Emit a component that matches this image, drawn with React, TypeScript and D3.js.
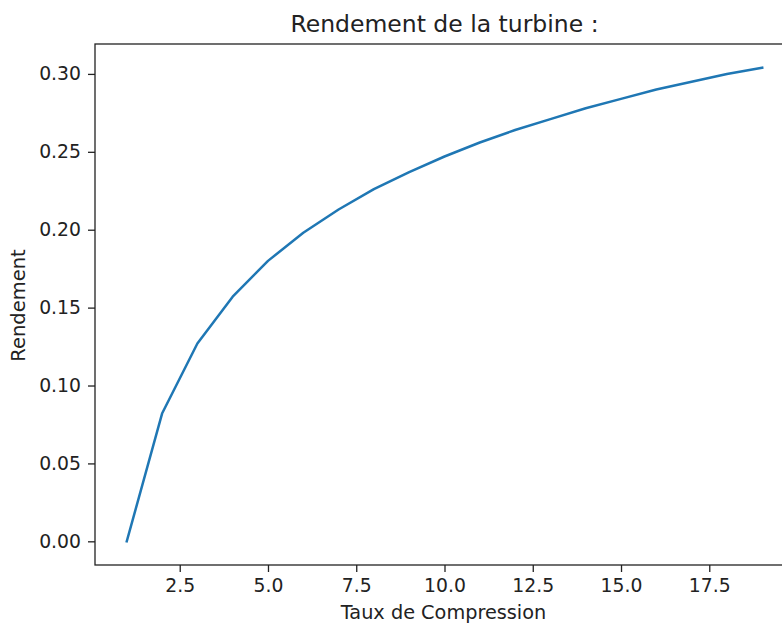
import React, { useEffect, useRef } from 'react';
import * as d3 from 'd3';

// taux de compression / rendement
const taux = [1, 2, 3, 4, 5, 6, 7, 8, 9, 10, 11, 12, 13, 14, 15, 16, 17, 18, 19];
const rendement = [
  0.0, 0.082, 0.127, 0.157, 0.18, 0.198, 0.213, 0.226, 0.237, 0.247,
  0.256, 0.264, 0.271, 0.278, 0.284, 0.29, 0.295, 0.3, 0.304,
];
const xTicks = [2.5, 5.0, 7.5, 10.0, 12.5, 15.0, 17.5];
const yTicks = [0.0, 0.05, 0.1, 0.15, 0.2, 0.25, 0.3];

const W = 782;
const H = 623;

export default function App() {
  const ref = useRef<SVGSVGElement | null>(null);

  useEffect(() => {
    const margin = { top: 44, left: 95, right: 794, bottom: 565 };
    const svg = d3.select(ref.current);
    svg.selectAll('*').remove();

    const font = 'DejaVu Sans, sans-serif';
    const xPad = (d3.max(taux)! - d3.min(taux)!) * 0.05;
    const yPad = (d3.max(rendement)! - d3.min(rendement)!) * 0.05;

    const x = d3
      .scaleLinear()
      .domain([d3.min(taux)! - xPad, d3.max(taux)! + xPad])
      .range([margin.left, margin.right]);
    const y = d3
      .scaleLinear()
      .domain([d3.min(rendement)! - yPad, d3.max(rendement)! + yPad])
      .range([margin.bottom, margin.top]);

    svg.append('rect').attr('width', W).attr('height', H).attr('fill', '#fff');

    // courbe
    const line = d3
      .line<number>()
      .x((_, i) => x(taux[i]))
      .y((d) => y(d));
    svg
      .append('path')
      .datum(rendement)
      .attr('d', line)
      .attr('fill', 'none')
      .attr('stroke', '#1f77b4')
      .attr('stroke-width', 2.5)
      .attr('stroke-linejoin', 'round')
      .attr('stroke-linecap', 'square');

    // axes
    const xAxis = svg
      .append('g')
      .attr('transform', `translate(0, ${margin.bottom})`)
      .call(
        d3
          .axisBottom(x)
          .tickValues(xTicks)
          .tickFormat(d3.format('.1f'))
          .tickSize(7)
          .tickPadding(7)
          .tickSizeOuter(0)
      );
    const yAxis = svg
      .append('g')
      .attr('transform', `translate(${margin.left}, 0)`)
      .call(
        d3
          .axisLeft(y)
          .tickValues(yTicks)
          .tickFormat(d3.format('.2f'))
          .tickSize(7)
          .tickPadding(7)
          .tickSizeOuter(0)
      );
    [xAxis, yAxis].forEach((g) => {
      g.select('.domain').remove();
      g.selectAll('line').attr('stroke', '#222').attr('stroke-width', 1.3);
      g.selectAll('text')
        .attr('fill', '#222')
        .style('font-family', font)
        .style('font-size', '18.8px');
    });

    // cadre
    svg
      .append('rect')
      .attr('x', margin.left)
      .attr('y', margin.top)
      .attr('width', margin.right - margin.left)
      .attr('height', margin.bottom - margin.top)
      .attr('fill', 'none')
      .attr('stroke', '#222')
      .attr('stroke-width', 1.3);

    const cx = (margin.left + margin.right) / 2;
    svg
      .append('text')
      .attr('x', cx)
      .attr('y', 32)
      .attr('text-anchor', 'middle')
      .attr('fill', '#222')
      .style('font-family', font)
      .style('font-size', '23.5px')
      .text('Rendement de la turbine :');

    svg
      .append('text')
      .attr('x', cx - 1)
      .attr('y', 619)
      .attr('text-anchor', 'middle')
      .attr('fill', '#222')
      .style('font-family', font)
      .style('font-size', '19.3px')
      .text('Taux de Compression');

    svg
      .append('text')
      .attr('transform', `translate(25, ${(margin.top + margin.bottom) / 2 + 1}) rotate(-90)`)
      .attr('text-anchor', 'middle')
      .attr('fill', '#222')
      .style('font-family', font)
      .style('font-size', '19.5px')
      .text('Rendement');
  }, []);

  return (
    <svg
      ref={ref}
      width={W}
      height={H}
      style={{ position: 'absolute', left: 0, top: 0, display: 'block' }}
    />
  );
}
